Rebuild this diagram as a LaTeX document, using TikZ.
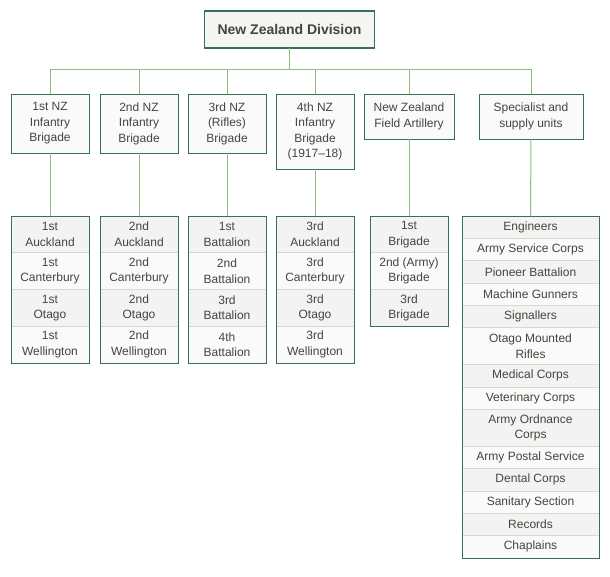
\documentclass[tikz,border=0pt]{standalone}
\usepackage{fontspec}
\setmainfont{Liberation Sans}
\definecolor{bord}{HTML}{33705F}
\definecolor{conn}{HTML}{8FBF80}
\definecolor{sep}{HTML}{C8E2C2}
\definecolor{txt}{HTML}{454442}
\definecolor{rowa}{HTML}{F3F3F3}
\definecolor{rowb}{HTML}{FAFAFA}
\definecolor{topfill}{HTML}{F4F6F2}
\tikzset{
  base/.style={text=txt, align=center, inner sep=0pt, outer sep=0pt, font=\fontsize{12}{15.5}\selectfont},
  headbox/.style={base, draw=bord, line width=1pt, fill=rowb},
  titlebox/.style={base, draw=bord, line width=1.3pt, fill=topfill, font=\fontsize{14}{17}\selectfont\bfseries},
  rowA/.style={base, draw=sep, line width=0.8pt, fill=rowa, anchor=north west},
  rowB/.style={base, draw=sep, line width=0.8pt, fill=rowb, anchor=north west},
  frame/.style={draw=bord, line width=1pt},
  link/.style={draw=conn, line width=1pt},
}
\begin{document}
\begin{tikzpicture}[x=1pt,y=-1pt]
\useasboundingbox[fill=white] (0,0) rectangle (610,576);

% title
\node[titlebox, minimum width=170, minimum height=37] (div) at (289.5,29.5) {New Zealand Division};

% level 1
\node[headbox, minimum width=78, minimum height=59] (b1) at (50,123.5) {1st NZ\\Infantry\\Brigade};
\node[headbox, minimum width=78, minimum height=59] (b2) at (139,123.5) {2nd NZ\\Infantry\\Brigade};
\node[headbox, minimum width=78, minimum height=59] (b3) at (227,123.5) {3rd NZ\\(Rifles)\\Brigade};
\node[headbox, minimum width=78, minimum height=75] (b4) at (315,131.5) {4th NZ\\Infantry\\Brigade\\(1917–18)};
\node[headbox, minimum width=90, minimum height=45] (b5) at (409,116.5) {New Zealand\\Field Artillery};
\node[headbox, minimum width=104, minimum height=45] (b6) at (531,116.5) {Specialist and\\supply units};

\coordinate (bus) at (289.5,69);

% level 2 lists: columns 1-4
\begin{scope}[every node/.append style={minimum width=78, minimum height=36.75}]
\node[rowA] (a1) at (11,216) {1st\\Auckland};
\node[rowB] (a2) at (11,252.75) {1st\\Canterbury};
\node[rowA] (a3) at (11,289.5) {1st\\Otago};
\node[rowB] (a4) at (11,326.25) {1st\\Wellington};

\node[rowA] (c1) at (100,216) {2nd\\Auckland};
\node[rowB] (c2) at (100,252.75) {2nd\\Canterbury};
\node[rowA] (c3) at (100,289.5) {2nd\\Otago};
\node[rowB] (c4) at (100,326.25) {2nd\\Wellington};

\node[rowA] (d1) at (188,216) {1st\\Battalion};
\node[rowB] (d2) at (188,252.75) {2nd\\Battalion};
\node[rowA] (d3) at (188,289.5) {3rd\\Battalion};
\node[rowB] (d4) at (188,326.25) {4th\\Battalion};

\node[rowA] (e1) at (276,216) {3rd\\Auckland};
\node[rowB] (e2) at (276,252.75) {3rd\\Canterbury};
\node[rowA] (e3) at (276,289.5) {3rd\\Otago};
\node[rowB] (e4) at (276,326.25) {3rd\\Wellington};

\node[rowA] (f1) at (370,216) {1st\\Brigade};
\node[rowB] (f2) at (370,252.75) {2nd (Army)\\Brigade};
\node[rowA] (f3) at (370,289.5) {3rd\\Brigade};
\end{scope}

% specialist list
\begin{scope}[every node/.append style={minimum width=137, minimum height=22.33}]
\node[rowA] (s1) at (462,216) {Engineers};
\node[rowB] (s2) at (462,238.33) {Army Service Corps};
\node[rowA] (s3) at (462,260.67) {Pioneer Battalion};
\node[rowB] (s4) at (462,283) {Machine Gunners};
\node[rowA] (s5) at (462,305.33) {Signallers};
\node[rowB, minimum height=37] (s6) at (462,327.67) {Otago Mounted\\Rifles};
\node[rowA] (s7) at (462,364.67) {Medical Corps};
\node[rowB] (s8) at (462,387) {Veterinary Corps};
\node[rowA, minimum height=37] (s9) at (462,409.33) {Army Ordnance\\Corps};
\node[rowB] (s10) at (462,446.33) {Army Postal Service};
\node[rowA] (s11) at (462,468.67) {Dental Corps};
\node[rowB] (s12) at (462,491) {Sanitary Section};
\node[rowA] (s13) at (462,513.33) {Records};
\node[rowB] (s14) at (462,535.67) {Chaplains};
\end{scope}

% frames
\draw[frame] (a1.north west) rectangle (a4.south east);
\draw[frame] (c1.north west) rectangle (c4.south east);
\draw[frame] (d1.north west) rectangle (d4.south east);
\draw[frame] (e1.north west) rectangle (e4.south east);
\draw[frame] (f1.north west) rectangle (f3.south east);
\draw[frame] (s1.north west) rectangle (s14.south east);

% connectors
\draw[link] (div.south) -- (bus);
\draw[link] (b1.north) -- (b1.north |- bus) -- (b6.north |- bus) -- (b6.north);
\draw[link] (b2.north) -- (b2.north |- bus);
\draw[link] (b3.north) -- (b3.north |- bus);
\draw[link] (b4.north) -- (b4.north |- bus);
\draw[link] (b5.north) -- (b5.north |- bus);
\draw[link] (b1.south) -- (a1.north);
\draw[link] (b2.south) -- (c1.north);
\draw[link] (b3.south) -- (d1.north);
\draw[link] (b4.south) -- (e1.north);
\draw[link] (b5.south) -- (f1.north);
\draw[link] (b6.south) -- (s1.north);
\end{tikzpicture}
\end{document}
